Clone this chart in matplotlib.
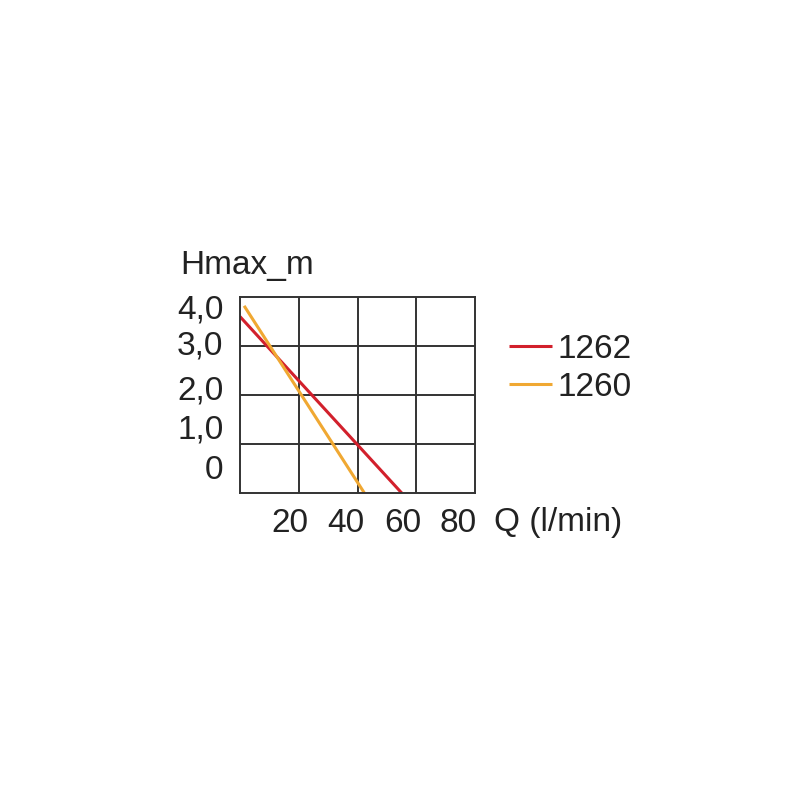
import matplotlib
matplotlib.use("Agg")
import matplotlib.pyplot as plt

# pump curves: flow Q (l/min) vs head Hmax (m)
q_1262 = [0, 55]
h_1262 = [3.6, 0]
q_1260 = [1.4, 42.3]
h_1260 = [3.82, 0]

x_labels = ["20", "40", "60", "80"]
y_labels = ["0", "1,0", "2,0", "3,0", "4,0"]
# where the printed labels sit (they are not on the grid lines)
x_label_pos = [17, 36, 55.5, 74.2]
y_label_pos = [0.53, 1.35, 2.16, 3.08, 3.8]

plt.rcParams['font.family'] = ['Liberation Sans', 'DejaVu Sans']
txt_col = "#222222"
grid_col = "#333333"
fs = 24

fig = plt.figure(figsize=(8, 8), dpi=100)
ax = fig.add_axes([0.3, 0.38375, 0.294, 0.245])

ax.plot(q_1262, h_1262, color="#d2202c", lw=2.2, label="1262", solid_capstyle="butt")
ax.plot(q_1260, h_1260, color="#f0a832", lw=2.2, label="1260", solid_capstyle="butt")

ax.set_xlim(0, 80)
ax.set_ylim(0, 4)

# grid on major ticks, labels on minor ticks
ax.set_xticks([20, 40, 60])
ax.set_yticks([1, 2, 3])
ax.tick_params(which="major", length=0, labelbottom=False, labelleft=False)
ax.set_xticks(x_label_pos, minor=True)
ax.set_xticklabels(x_labels, minor=True)
ax.set_yticks(y_label_pos, minor=True)
ax.set_yticklabels(y_labels, minor=True)
ax.tick_params(which="minor", length=0, labelsize=fs, colors=txt_col)
ax.tick_params(axis="x", which="minor", pad=11)
ax.tick_params(axis="y", which="minor", pad=12)
ax.grid(True, which="major", color=grid_col, lw=1.4)

for s in ax.spines.values():
    s.set_color(grid_col)
    s.set_linewidth(1.4)

fig.text(180 / 800, 1 - 274 / 800, "Hmax_m", fontsize=fs, color=txt_col, va="baseline")
fig.text(494 / 800, 1 - 522 / 800, "Q (l/min)", fontsize=fs, color=txt_col, va="center")

leg = ax.legend(loc="upper left", bbox_to_anchor=(509 / 800, 1 - 334 / 800),
                bbox_transform=fig.transFigure, frameon=False, fontsize=fs,
                handlelength=1.3, handletextpad=0.15, labelspacing=0.2,
                borderpad=0, borderaxespad=0)
for t in leg.get_texts():
    t.set_color(txt_col)

fig.savefig("out.png", dpi=100, facecolor="white")
